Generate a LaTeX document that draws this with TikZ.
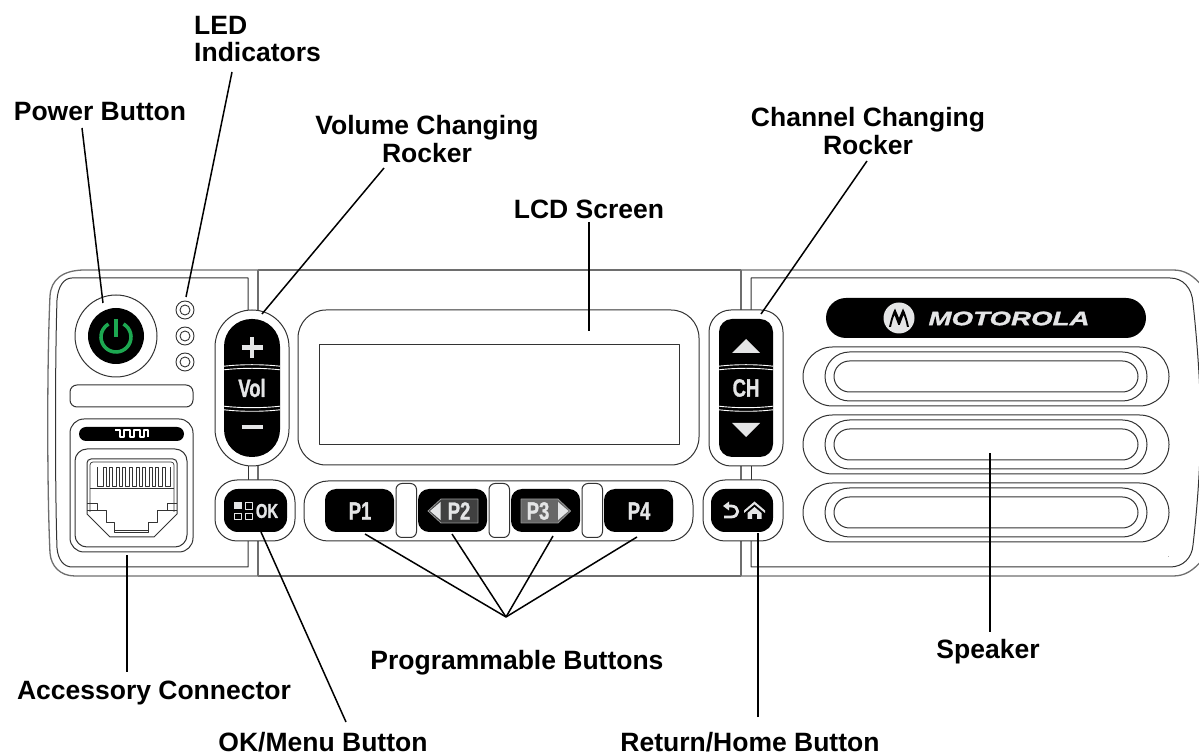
\documentclass[tikz,border=0pt]{standalone}
\usepackage{fontspec}
\setmainfont{Liberation Sans}
\newfontfamily\keyfont[UprightFont=* Bold,FakeStretch=0.74,FakeBold=1.2]{Liberation Sans}
\newfontfamily\motofont[UprightFont=* Bold Italic,FakeStretch=1.42,FakeBold=1.4]{Liberation Sans}
\usetikzlibrary{calc}
\definecolor{keytext}{HTML}{E4E5E6}
\definecolor{pwrgreen}{HTML}{1DA851}
\definecolor{shellgray}{HTML}{6E6E6E}
\definecolor{linegray}{HTML}{333333}
\tikzset{
  lbl/.style={font=\bfseries\fontsize{26.5}{27.5}\selectfont, align=center, inner sep=0pt, text=black},
  leader/.style={draw=black, line width=1.5pt},
  shell/.style={draw=shellgray, line width=1.3pt},
  thin part/.style={draw=linegray, line width=1pt},
  blackkey/.style={fill=black, draw=none},
  keylbl/.style={text=keytext, inner sep=0pt, font=\keyfont\fontsize{25}{25}\selectfont},
}
\newcommand{\grille}[1]{%
  \draw[thin part,rounded corners=29.5pt] (803,#1) rectangle ++(366,59);
  \draw[thin part,rounded corners=24.5pt] (825,#1+5) rectangle ++(322,49);
  \draw[thin part,rounded corners=15.5pt] (834,#1+14) rectangle ++(304,31);
}
% x1 x2 y bow(negative = centre up)
\newcommand{\sepwave}[4]{%
  \draw[white,line width=.9pt] (#1,#3-1.8) .. controls ({(#1+#2)/2-10},#3-1.8+#4) and ({(#1+#2)/2+10},#3-1.8+#4) .. (#2,#3-1.8);
  \draw[white,line width=.9pt] (#1,#3+1.8) .. controls ({(#1+#2)/2-10},#3+1.8+#4) and ({(#1+#2)/2+10},#3+1.8+#4) .. (#2,#3+1.8);
}
\begin{document}
\begin{tikzpicture}[x=1pt,y=-1pt,yshift=755pt,line join=round]
\useasboundingbox (0,0) rectangle (1199,755);
% ---- shell
\draw[shell] (258,270) -- (85,270) .. controls (62,270) and (51,280) .. (50,296)
  .. controls (47,360) and (47,490) .. (50,553) .. controls (51,566) and (60,576) .. (75,576) -- (258,576);
\draw[thin part] (248,310) -- (248,278) -- (72,278) .. controls (64,278) and (58,286) .. (57,300)
  .. controls (55,360) and (55,490) .. (57,548) .. controls (58,560) and (64,567) .. (72,567) -- (248,567) -- (248,540);
\draw[shell] (258,270) -- (258,312);
\draw[shell] (258,464) -- (258,482);
\draw[thin part] (248,464) -- (248,482);
\draw[shell] (258,538) -- (258,576);
\draw[shell] (258,270) -- (741,270);
\draw[shell] (258,576) -- (741,576);
\draw[shell] (741,270) -- (741,312);
\draw[shell] (741,464) -- (741,482);
\draw[thin part] (751,464) -- (751,482);
\draw[shell] (741,538) -- (741,576);
\draw[shell] (741,270) -- (1173,270) .. controls (1185,270) and (1193,275) .. (1204,288);
\draw[shell] (741,576) -- (1173,576) .. controls (1185,576) and (1193,571) .. (1204,558);
\draw[thin part] (751,310) -- (751,278) -- (1170,278) .. controls (1183,278) and (1192,288) .. (1193,303)
  .. controls (1197,340) and (1199,370) .. (1200,395);
\draw[thin part] (751,540) -- (751,567) -- (1170,567) .. controls (1183,567) and (1192,558) .. (1193,545)
  .. controls (1197,510) and (1199,480) .. (1200,455);
% ---- power
\node[circle,draw=linegray,line width=1pt,fill=white,minimum size=82pt,inner sep=0pt] (pwr) at (116,336) {};
\node[circle,fill=black,minimum size=56pt,inner sep=0pt] (pwrkey) at (116,336) {};
\draw[pwrgreen,line width=3.6pt] (123.5,324) arc[start angle=60,end angle=-240,radius=15pt];
\draw[pwrgreen,line width=4pt] (116,319) -- (116,337);
% ---- LEDs
\foreach \yy/\nm in {310/a,336/b,362/c}{
  \node[circle,draw=linegray,line width=.9pt,minimum size=18pt,inner sep=0pt] (led\nm) at (185,\yy) {};
  \node[circle,draw=linegray,line width=.9pt,minimum size=10pt,inner sep=0pt] at (185,\yy) {};
}
% ---- left slot, accessory
\draw[thin part,rounded corners=7pt] (70,385) rectangle (193,407);
\draw[thin part,rounded corners=14pt] (70,419) rectangle (193,552);
\draw[blackkey,rounded corners=7pt] (79,427) rectangle (184,441);
\draw[white,line width=1.1pt] (115,430) -- (120,430) -- (120,437) -- (124,437) -- (124,430) -- (130,430) -- (130,437) -- (134,437) -- (134,430) -- (140,430) -- (140,437) -- (144,437) -- (144,430) -- (148,430) -- (148,437);
\draw[thin part,rounded corners=12pt] (75,449) rectangle (187,547);
% RJ45
\draw[thin part] (87,514) -- (87,466) [rounded corners=4pt] -- (87,459) -- (177,459) [sharp corners] -- (177,514) -- (154,537) -- (110,537) -- cycle;
\draw[linegray,line width=.7pt] (90,512) -- (90,468) [rounded corners=3pt] -- (90,462) -- (174,462) [sharp corners] -- (174,512);
\draw[thin part] (90,489) -- (174,489);
\draw[linegray,line width=.8pt] (97,467) -- (97,486) -- (103,486) -- (103,467) foreach \i in {1,...,9} { -- ++(3,0) -- ++(0,19) -- ++(3.6,0) -- ++(0,-19) } -- ++(3,0) -- ++(0,19) -- (170,486) -- (170,467);
\draw[linegray,line width=.8pt] (87,503) -- (97,503) -- (97,510);
\draw[linegray,line width=.8pt] (177,503) -- (167,503) -- (167,510);
\draw[thin part] (87,511) -- (106,511) -- (106,523) -- (114,523) -- (114,533) -- (148,533) -- (148,523) -- (157,523) -- (157,511) -- (177,511);
\draw[linegray,line width=.7pt] (114,530) -- (148,530);
% ---- Volume rocker
\draw[thin part,fill=white,rounded corners=37pt] (215,310) rectangle (289,466);
\draw[blackkey,rounded corners=27.5pt] (224,319) rectangle (280,457);
\draw[keytext,line width=4.5pt] (252,337) -- (252,358) (241.5,347.5) -- (262.5,347.5);
\draw[keytext,line width=4.5pt] (241.5,427) -- (262.5,427);
\sepwave{224}{280}{368}{-2}
\sepwave{224}{280}{408}{2}
\node[keylbl] (vol) at (252,388) {Vol};
% ---- OK
\draw[thin part,fill=white,rounded corners=22pt] (215,480) rectangle (295,541);
\draw[blackkey,rounded corners=14pt] (224,489) rectangle (287,532);
\fill[keytext] (234,502) rectangle (242,509.5);
\draw[keytext,line width=.9pt] (245,502.5) rectangle (252,509) (234.5,513) rectangle (241.5,519.5) (245,513) rectangle (252,519.5);
\node[keylbl,font=\keyfont\fontsize{20}{20}\selectfont] (ok) at (267,511) {OK};
% ---- LCD
\draw[thin part,rounded corners=28pt] (298,310) rectangle (699,465);
\draw[thin part] (319,345) rectangle (679,445);
% ---- P bar
\draw[thin part,rounded corners=24pt] (304,481) rectangle (693,541);
\foreach \xx/\nm in {396/s1,489/s2,582/s3}{
  \draw[thin part,fill=white,rounded corners=6pt] (\xx,483.5) rectangle (\xx+20.5,537.5);
}
\foreach \xx in {325,418,511,604}{ \draw[blackkey,rounded corners=11pt] (\xx,489) rectangle (\xx+69,532); }
\node[keylbl] (p1) at (360,511) {P1};
\node[keylbl] (p4) at (639,511) {P4};
% P2
\draw[fill=keytext!28!black,draw=keytext!65!black,line width=.8pt] (428,511) -- (441,499) -- (478,499) -- (478,523) -- (441,523) -- cycle;
\fill[keytext] (430,511) -- (440.5,502) -- (440.5,520) -- cycle;
\node[keylbl] (p2) at (459,511) {P2};
% P3
\draw[fill=keytext!45!black,draw=keytext!65!black,line width=.8pt] (521,499) -- (558,499) -- (570.5,511) -- (558,523) -- (521,523) -- cycle;
\fill[keytext] (558,502) -- (568.5,511) -- (558,520) -- cycle;
\node[keylbl] (p3) at (538,511) {P3};
% ---- CH rocker
\draw[thin part,fill=white,rounded corners=22pt] (709,310) rectangle (783,466);
\draw[blackkey,rounded corners=13pt] (719,319) rectangle (773,457);
\fill[keytext] (732,353) -- (746,339) -- (760,353) -- cycle;
\fill[keytext] (732,423) -- (746,437) -- (760,423) -- cycle;
\sepwave{719}{773}{368}{-2}
\sepwave{719}{773}{408}{2}
\node[keylbl] (ch) at (746,388) {CH};
% ---- home
\draw[thin part,fill=white,rounded corners=22pt] (703,480) rectangle (783,541);
\draw[blackkey,rounded corners=14pt] (711,489) rectangle (773,532);
\draw[keytext,line width=2.8pt] (727,506) -- (731,506) .. controls (740,506) and (740,517) .. (731,517) -- (724,517);
\fill[keytext] (723,506) -- (729,501.5) -- (729,510.5) -- cycle;
\fill[keytext] (744,510.5) -- (754.5,501.5) -- (765,510.5) -- (765,513) -- (754.5,504.3) -- (744,513) -- cycle;
\fill[keytext] (747.5,513) -- (754.5,507) -- (761.5,513) -- (761.5,519) -- (757,519) -- (757,514) -- (752,514) -- (752,519) -- (747.5,519) -- cycle;
% ---- Motorola
\draw[blackkey,rounded corners=20pt] (826,298) rectangle (1146,338);
\fill[keytext] (899,318) circle[radius=15.5pt];
\fill[black] (889,327) .. controls (891,318) and (893,312) .. (895,308.5) -- (899,318) -- (903,308.5) .. controls (905,312) and (907,318) .. (909,327) -- (907,327) .. controls (906,322) and (905,318) .. (903.5,315) -- (899.7,325) -- (898.3,325) -- (894.5,315) .. controls (893,318) and (892,322) .. (891,327) -- cycle;
\node[inner sep=0pt,text=keytext,font=\motofont\fontsize{19.5}{20}\selectfont] (moto) at (1009,318.5) {MOTOROLA};
% ---- Speaker
\grille{347}
\grille{415}
\grille{483}
\fill[gray!60] (1167.5,556) rectangle (1169,557.5);
% ---- labels
\node[lbl,align=left,anchor=west] (lblLed) at (194,39) {LED\\[.25pt]Indicators};
\node[lbl] (lblPower) at (100,112) {Power Button};
\node[lbl] (lblVol) at (427,139) {Volume Changing\\Rocker};
\node[lbl] (lblCh) at (868,131) {Channel Changing\\Rocker};
\node[lbl] (lblLcd) at (589,209) {LCD Screen};
\node[lbl] (lblSpk) at (988,652) {Speaker};
\node[lbl] (lblProg) at (517,663) {Programmable Buttons};
\node[lbl] (lblAcc) at (154,693) {Accessory Connector};
\node[lbl] (lblOk) at (323,742) {OK/Menu Button};
\node[lbl] (lblHome) at (750,742) {Return/Home Button};
% ---- connector ends
\coordinate (ePower) at (82,128); \coordinate (tPower) at (103,303);
\coordinate (eLed) at (232,72); \coordinate (tLed) at (186,297);
\coordinate (eVol) at (384,168); \coordinate (tVol) at (262,314);
\coordinate (eLcd) at (589,222); \coordinate (tLcd) at (589,331);
\coordinate (eCh) at (867,161); \coordinate (tCh) at (761,314);
\coordinate (eSpk) at (990,632); \coordinate (tSpk) at (990,453);
\coordinate (eHome) at (758,717); \coordinate (tHome) at (758,533);
\coordinate (eOk) at (346,722); \coordinate (tOk) at (261,532);
\coordinate (eAcc) at (127,672); \coordinate (tAcc) at (127,555);
\coordinate (eProg) at (506,617);
\coordinate (tP1) at (365,534); \coordinate (tP2) at (452,534);
\coordinate (tP3) at (553,536); \coordinate (tP4) at (637,537);
\draw[leader] (ePower) -- (tPower);
\draw[leader] (eLed) -- (tLed);
\draw[leader] (eVol) -- (tVol);
\draw[leader] (eLcd) -- (tLcd);
\draw[leader] (eCh) -- (tCh);
\draw[leader] (eSpk) -- (tSpk);
\draw[leader] (eHome) -- (tHome);
\draw[leader] (eOk) -- (tOk);
\draw[leader] (eAcc) -- (tAcc);
\draw[leader] (eProg) -- (tP1);
\draw[leader] (eProg) -- (tP2);
\draw[leader] (eProg) -- (tP3);
\draw[leader] (eProg) -- (tP4);
\end{tikzpicture}
\end{document}
